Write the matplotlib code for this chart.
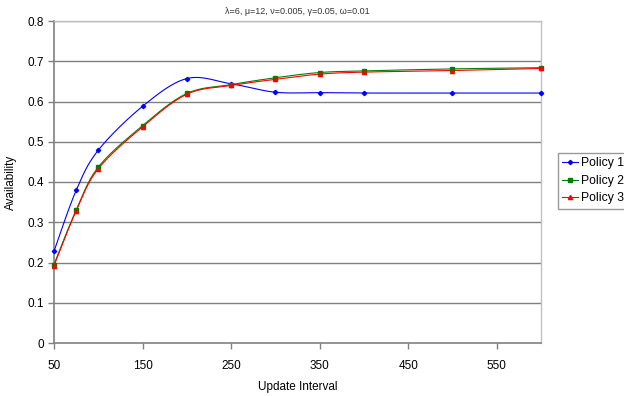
import numpy as np
import matplotlib
matplotlib.use("Agg")
import matplotlib.pyplot as plt
from matplotlib.lines import Line2D

interval = [50, 75, 100, 150, 200, 250, 300, 350, 400, 500, 600]
policy1 = [0.228, 0.379, 0.479, 0.588, 0.657, 0.644, 0.623, 0.622, 0.621, 0.621, 0.621]
policy2 = [0.195, 0.330, 0.437, 0.540, 0.620, 0.642, 0.659, 0.672, 0.676, 0.681, 0.684]
policy3 = [0.192, 0.328, 0.433, 0.537, 0.618, 0.640, 0.655, 0.668, 0.673, 0.677, 0.682]
series_names = ["Policy 1", "Policy 2", "Policy 3"]
title = "λ=6, μ=12, ν=0.005, γ=0.05, ω=0.01"
xticks = [50, 150, 250, 350, 450, 550]
yticks = [0, 0.1, 0.2, 0.3, 0.4, 0.5, 0.6, 0.7, 0.8]

plt.rcParams['font.family'] = ['Liberation Sans', 'DejaVu Sans']

fig = plt.figure(figsize=(6.24, 3.96), dpi=100)
ax = fig.add_axes([54/624, 1-343/396, (541-54)/624, (343-21)/396])
ax.set_xlim(50, 600)
ax.set_ylim(0, 0.8)


def smooth(xs, ys, n=30):
    # Catmull-Rom (Excel-like smoothing) computed in screen-proportional space
    sx = 487.0 / 550.0
    sy = 402.5
    P = np.column_stack([np.asarray(xs, float) * sx, np.asarray(ys, float) * sy])
    out = []
    for i in range(len(P) - 1):
        p0 = P[i - 1] if i > 0 else P[i]
        p1 = P[i]
        p2 = P[i + 1]
        p3 = P[i + 2] if i + 2 < len(P) else P[i + 1]
        c1 = p1 + (p2 - p0) / 6.0
        c2 = p2 - (p3 - p1) / 6.0
        t = np.linspace(0, 1, n)[:, None]
        seg = ((1 - t) ** 3) * p1 + 3 * ((1 - t) ** 2) * t * c1 + 3 * (1 - t) * t ** 2 * c2 + t ** 3 * p2
        out.append(seg if i == 0 else seg[1:])
    S = np.vstack(out)
    return S[:, 0] / sx, S[:, 1] / sy


for yv in yticks[1:]:
    ax.axhline(yv, color='#808080', lw=1.0, zorder=1)

specs = [
    (policy1, '#0000FF', 'D', 2.2),
    (policy2, '#008000', 's', 2.6),
    (policy3, '#FF0000', '^', 3.0),
]
handles = []
for (vals, col, mk, ms), name in zip(specs, series_names):
    sxv, syv = smooth(interval, vals)
    ax.plot(sxv, syv, color=col, lw=0.8, zorder=3, clip_on=False)
    ax.plot(interval, vals, linestyle='none', marker=mk, ms=ms, color=col,
            markeredgecolor=col, zorder=4, clip_on=False)
    handles.append(Line2D([0], [0], color=col, lw=0.8, marker=mk, ms=ms,
                          markeredgecolor=col))

ax.set_xticks(xticks)
ax.set_yticks(yticks)
ax.set_yticklabels(['0', '0.1', '0.2', '0.3', '0.4', '0.5', '0.6', '0.7', '0.8'])
ax.tick_params(axis='both', labelsize=8.5, colors='#808080', labelcolor='black',
               length=4, width=1.0, direction='out', pad=3)
ax.tick_params(axis='x', pad=8)

for s in ['left', 'bottom']:
    ax.spines[s].set_color('#808080')
    ax.spines[s].set_linewidth(1.2)
for s in ['top', 'right']:
    ax.spines[s].set_color('#C0C0C0')
    ax.spines[s].set_linewidth(1.0)

ax.set_xlabel("Update Interval", fontsize=8.5, labelpad=7)
ax.set_ylabel("Availability", fontsize=8.5, labelpad=8)
fig.text(297/624, 1-11/396, title, fontsize=6.5, ha='center', va='center', color='#333333')

leg = fig.legend(handles, series_names, loc='upper left',
                 bbox_to_anchor=(558/624, 1-153/396), fontsize=8.8,
                 frameon=True, fancybox=False, handlelength=1.3,
                 handletextpad=0.25, borderpad=0.35, labelspacing=0.45,
                 borderaxespad=0)
leg.get_frame().set_edgecolor('#808080')
leg.get_frame().set_linewidth(1.0)

fig.savefig("out.png", dpi=100)
